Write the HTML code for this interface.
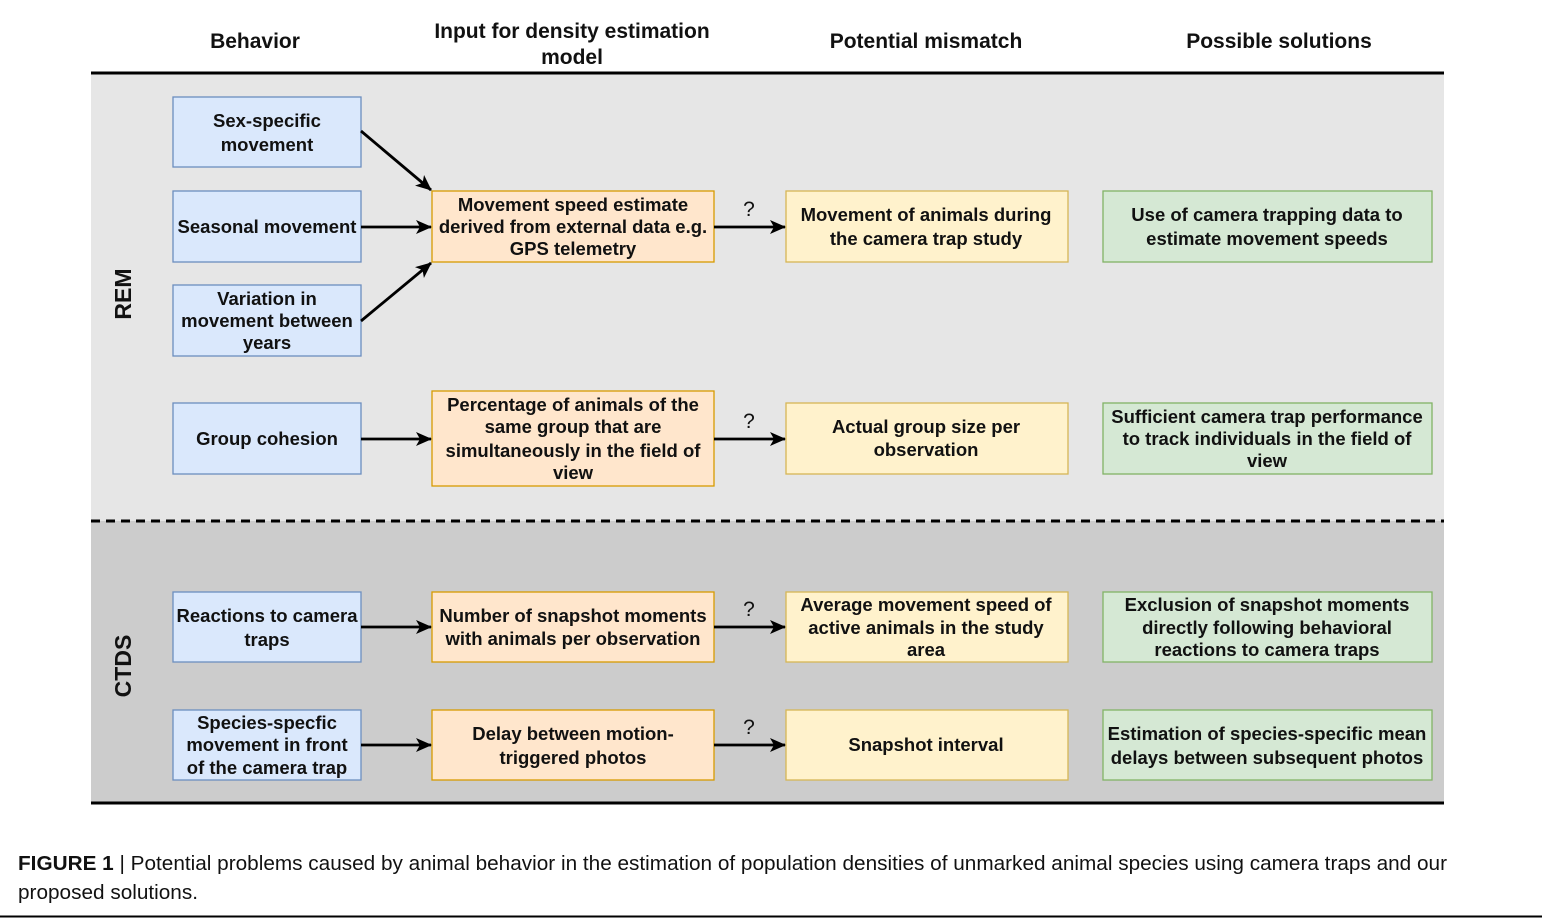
<!DOCTYPE html>
<html><head><meta charset="utf-8"><style>
html,body{margin:0;padding:0;background:#fff;}
svg{display:block}
text{font-family:"Liberation Sans",Arial,sans-serif;fill:#111;}
.h{font-size:21px;font-weight:bold;text-anchor:middle}
.t{font-size:18.5px;font-weight:bold;text-anchor:middle}
.q{font-size:21px;text-anchor:middle}
.b{fill:#dae8fc;stroke:#6c8ebf;stroke-width:1.3}
.o{fill:#ffe6cc;stroke:#d79b00;stroke-width:1.3}
.y{fill:#fff2cc;stroke:#d6b656;stroke-width:1.3}
.g{fill:#d5e8d4;stroke:#82b366;stroke-width:1.3}
.a{stroke:#000;stroke-width:2.8;fill:none;marker-end:url(#ar)}
</style></head><body>
<svg width="1542" height="918" viewBox="0 0 1542 918">
<defs><marker id="ar" markerWidth="16" markerHeight="16" refX="15" refY="8" orient="auto" markerUnits="userSpaceOnUse" viewBox="0 0 16 16"><path d="M0,1 L16,8 L0,15 L4,8 z" fill="#000"/></marker></defs>
<text class="h" x="255" y="48">Behavior</text>
<text class="h" x="572" y="38">Input for density estimation</text>
<text class="h" x="572" y="64">model</text>
<text class="h" x="926" y="48">Potential mismatch</text>
<text class="h" x="1279" y="48">Possible solutions</text>
<rect x="91" y="74" width="1353" height="447" fill="#e6e6e6"/>
<rect x="91" y="521" width="1353" height="282" fill="#cccccc"/>
<line x1="91" y1="73" x2="1444" y2="73" stroke="#000" stroke-width="3"/>
<line x1="91" y1="521" x2="1444" y2="521" stroke="#000" stroke-width="3" stroke-dasharray="9,6"/>
<line x1="91" y1="803" x2="1444" y2="803" stroke="#000" stroke-width="3"/>
<text x="131" y="294" transform="rotate(-90 131 294)" style="font-size:23px;font-weight:bold;text-anchor:middle">REM</text>
<text x="131" y="666" transform="rotate(-90 131 666)" style="font-size:23px;font-weight:bold;text-anchor:middle">CTDS</text>

<rect class="b" x="173" y="97" width="188" height="70"/>
<rect class="b" x="173" y="191" width="188" height="71"/>
<rect class="b" x="173" y="285" width="188" height="71"/>
<rect class="b" x="173" y="403" width="188" height="71"/>
<rect class="b" x="173" y="592" width="188" height="70"/>
<rect class="b" x="173" y="710" width="188" height="70"/>
<text class="t" x="267" y="127">Sex-specific</text><text class="t" x="267" y="151">movement</text>
<text class="t" x="267" y="233">Seasonal movement</text>
<text class="t" x="267" y="305">Variation in</text><text class="t" x="267" y="327">movement between</text><text class="t" x="267" y="349">years</text>
<text class="t" x="267" y="445">Group cohesion</text>
<text class="t" x="267" y="622">Reactions to camera</text><text class="t" x="267" y="646">traps</text>
<text class="t" x="267" y="729">Species-specfic</text><text class="t" x="267" y="751">movement in front</text><text class="t" x="267" y="774">of the camera trap</text>

<rect class="o" x="432" y="191" width="282" height="71"/>
<rect class="o" x="432" y="391" width="282" height="95"/>
<rect class="o" x="432" y="592" width="282" height="70"/>
<rect class="o" x="432" y="710" width="282" height="70"/>
<text class="t" x="573" y="211">Movement speed estimate</text><text class="t" x="573" y="233">derived from external data e.g.</text><text class="t" x="573" y="255">GPS telemetry</text>
<text class="t" x="573" y="411">Percentage of animals of the</text><text class="t" x="573" y="433">same group that are</text><text class="t" x="573" y="457">simultaneously in the field of</text><text class="t" x="573" y="479">view</text>
<text class="t" x="573" y="622">Number of snapshot moments</text><text class="t" x="573" y="645">with animals per observation</text>
<text class="t" x="573" y="740">Delay between motion-</text><text class="t" x="573" y="764">triggered photos</text>

<rect class="y" x="786" y="191" width="282" height="71"/>
<rect class="y" x="786" y="403" width="282" height="71"/>
<rect class="y" x="786" y="592" width="282" height="70"/>
<rect class="y" x="786" y="710" width="282" height="70"/>
<text class="t" x="926" y="221">Movement of animals during</text><text class="t" x="926" y="245">the camera trap study</text>
<text class="t" x="926" y="433">Actual group size per</text><text class="t" x="926" y="456">observation</text>
<text class="t" x="926" y="611">Average movement speed of</text><text class="t" x="926" y="634">active animals in the study</text><text class="t" x="926" y="656">area</text>
<text class="t" x="926" y="751">Snapshot interval</text>

<rect class="g" x="1103" y="191" width="329" height="71"/>
<rect class="g" x="1103" y="403" width="329" height="71"/>
<rect class="g" x="1103" y="592" width="329" height="70"/>
<rect class="g" x="1103" y="710" width="329" height="70"/>
<text class="t" x="1267" y="221">Use of camera trapping data to</text><text class="t" x="1267" y="245">estimate movement speeds</text>
<text class="t" x="1267" y="423">Sufficient camera trap performance</text><text class="t" x="1267" y="445">to track individuals in the field of</text><text class="t" x="1267" y="467">view</text>
<text class="t" x="1267" y="611">Exclusion of snapshot moments</text><text class="t" x="1267" y="634">directly following behavioral</text><text class="t" x="1267" y="656">reactions to camera traps</text>
<text class="t" x="1267" y="740">Estimation of species-specific mean</text><text class="t" x="1267" y="764">delays between subsequent photos</text>

<line class="a" x1="361" y1="131" x2="431" y2="190"/>
<line class="a" x1="361" y1="227" x2="431" y2="227"/>
<line class="a" x1="361" y1="321" x2="431" y2="263"/>
<line class="a" x1="361" y1="439" x2="431" y2="439"/>
<line class="a" x1="361" y1="627" x2="431" y2="627"/>
<line class="a" x1="361" y1="745" x2="431" y2="745"/>
<line class="a" x1="714" y1="227" x2="785" y2="227"/>
<line class="a" x1="714" y1="439" x2="785" y2="439"/>
<line class="a" x1="714" y1="627" x2="785" y2="627"/>
<line class="a" x1="714" y1="745" x2="785" y2="745"/>
<text class="q" x="749" y="216">?</text>
<text class="q" x="749" y="428">?</text>
<text class="q" x="749" y="616">?</text>
<text class="q" x="749" y="734">?</text>

<text x="18" y="870" style="font-size:20px" textLength="1429" lengthAdjust="spacingAndGlyphs"><tspan style="font-weight:bold">FIGURE 1</tspan> | Potential problems caused by animal behavior in the estimation of population densities of unmarked animal species using camera traps and our</text>
<text x="18" y="899" style="font-size:20px" textLength="180" lengthAdjust="spacingAndGlyphs">proposed solutions.</text>
<line x1="0" y1="916.5" x2="1542" y2="916.5" stroke="#000" stroke-width="2"/>
</svg>
</body></html>
